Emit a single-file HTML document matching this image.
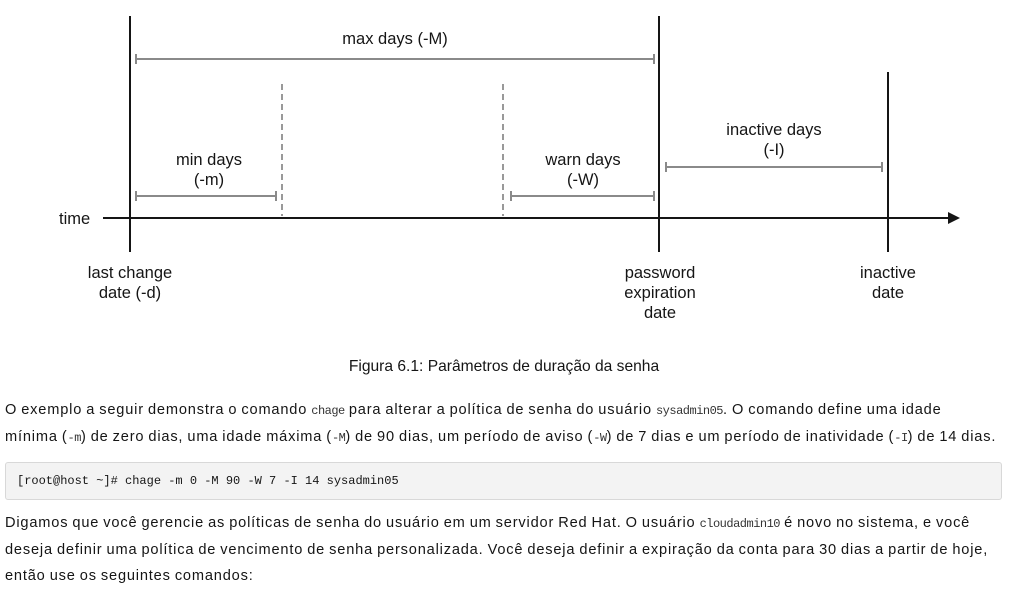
<!DOCTYPE html>
<html><head><meta charset="utf-8"><style>
body{margin:0;width:1009px;height:589px;background:#fff;font-family:"Liberation Sans",sans-serif;color:#151515;overflow:hidden;position:relative}
svg{position:absolute;left:0;top:0}
.p{position:absolute;left:5px;font-size:14.6px;line-height:26px;letter-spacing:0.82px;word-spacing:-0.8px;white-space:nowrap}
code{font-family:"Liberation Mono",monospace;font-size:12px;color:#333;letter-spacing:-0.5px}
.code{position:absolute;left:5px;top:462px;width:997px;height:38px;background:#f3f3f3;border:1px solid #d8d8d8;border-radius:3px;box-sizing:border-box;font-family:"Liberation Mono",monospace;font-size:12px;line-height:37px;padding-left:11px;color:#151515}
</style></head><body>
<svg width="1009" height="380" font-family="Liberation Sans, sans-serif" font-size="16.5" fill="#151515">
<g stroke="#151515" stroke-width="2">
<line x1="130" y1="16" x2="130" y2="252"/>
<line x1="659" y1="16" x2="659" y2="252"/>
<line x1="888" y1="72" x2="888" y2="252"/>
<line x1="103" y1="218" x2="950" y2="218"/>
</g>
<polygon points="960,218 948,212 948,224" fill="#151515"/>
<g stroke="#999" stroke-width="2" stroke-dasharray="6,4">
<line x1="282" y1="84" x2="282" y2="216"/>
<line x1="503" y1="84" x2="503" y2="216"/>
</g>
<g stroke="#8a8a8a" stroke-width="2">
<line x1="136" y1="59" x2="654" y2="59"/><line x1="136" y1="54" x2="136" y2="64"/><line x1="654" y1="54" x2="654" y2="64"/>
<line x1="136" y1="196" x2="276" y2="196"/><line x1="136" y1="191" x2="136" y2="201"/><line x1="276" y1="191" x2="276" y2="201"/>
<line x1="511" y1="196" x2="654" y2="196"/><line x1="511" y1="191" x2="511" y2="201"/><line x1="654" y1="191" x2="654" y2="201"/>
<line x1="666" y1="167" x2="882" y2="167"/><line x1="666" y1="162" x2="666" y2="172"/><line x1="882" y1="162" x2="882" y2="172"/>
</g>
<g text-anchor="middle">
<text x="395" y="44">max days (-M)</text>
<text x="209" y="165">min days</text><text x="209" y="185">(-m)</text>
<text x="583" y="165">warn days</text><text x="583" y="185">(-W)</text>
<text x="774" y="135">inactive days</text><text x="774" y="155">(-I)</text>
<text x="130" y="278">last change</text><text x="130" y="298">date (-d)</text>
<text x="660" y="278">password</text><text x="660" y="298">expiration</text><text x="660" y="318">date</text>
<text x="888" y="278">inactive</text><text x="888" y="298">date</text>
<text x="504" y="371" font-size="15.6">Figura 6.1: Parâmetros de duração da senha</text>
</g>
<text x="59" y="224">time</text>
</svg>
<div class="p" style="top:397px">O exemplo a seguir demonstra o comando <code>chage</code> para alterar a política de senha do usuário <code>sysadmin05</code>. O comando define uma idade<br>mínima (<code>-m</code>) de zero dias, uma idade máxima (<code>-M</code>) de 90 dias, um período de aviso (<code>-W</code>) de 7 dias e um período de inatividade (<code>-I</code>) de 14 dias.</div>
<div class="code">[root@host ~]# chage -m 0 -M 90 -W 7 -I 14 sysadmin05</div>
<div class="p" style="top:510px">Digamos que você gerencie as políticas de senha do usuário em um servidor Red Hat. O usuário <code>cloudadmin10</code> é novo no sistema, e você<br>deseja definir uma política de vencimento de senha personalizada. Você deseja definir a expiração da conta para 30 dias a partir de hoje,<br>então use os seguintes comandos:</div>
</body></html>
